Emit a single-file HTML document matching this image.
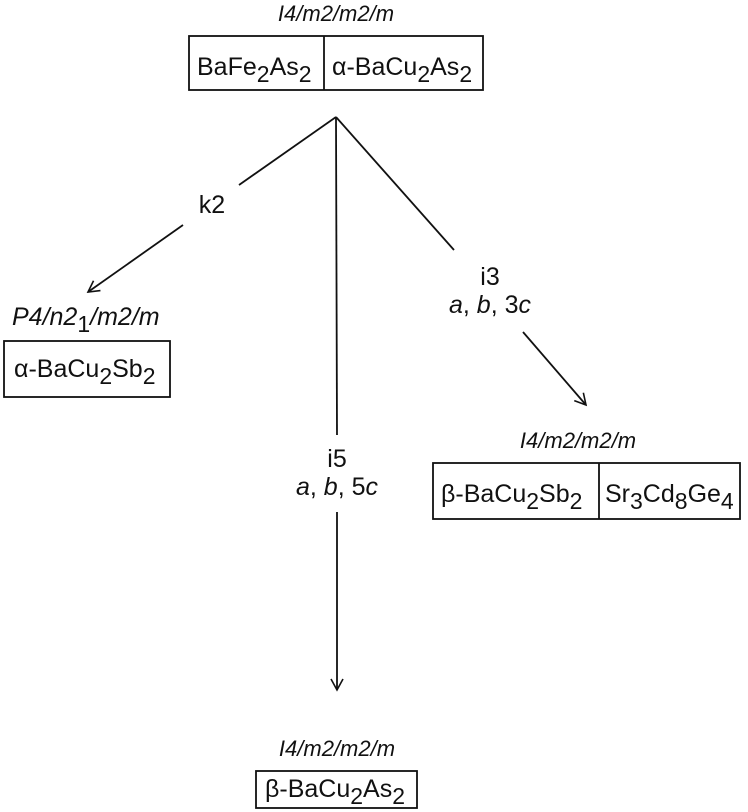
<!DOCTYPE html>
<html><head><style>
html,body{margin:0;padding:0;background:#fff;}
svg{display:block;}
text{font-family:"Liberation Sans",Arial,sans-serif;font-size:25px;fill:#111;}
.i{font-style:italic;}
.t{font-style:italic;font-size:22px;}
</style></head><body>
<svg width="748" height="812" viewBox="0 0 748 812" xmlns="http://www.w3.org/2000/svg">
<defs>
<marker id="a" markerWidth="14" markerHeight="14" refX="12" refY="7" orient="auto" markerUnits="userSpaceOnUse">
<path d="M1,1 L12,7 L1,13" fill="none" stroke="#111" stroke-width="1.6"/>
</marker>
</defs>
<g stroke="#111" stroke-width="1.8" fill="none">
<rect x="189" y="36" width="294" height="54"/>
<line x1="324" y1="36" x2="324" y2="90"/>
<rect x="4" y="341" width="166" height="56"/>
<rect x="433" y="463" width="307" height="56"/>
<line x1="599" y1="463" x2="599" y2="519"/>
<rect x="256" y="771" width="161" height="37"/>
<line x1="336" y1="117" x2="239" y2="185"/>
<line x1="183" y1="225" x2="88" y2="292" marker-end="url(#a)"/>
<line x1="336" y1="117" x2="337" y2="435"/>
<line x1="337" y1="512" x2="337" y2="690" marker-end="url(#a)"/>
<line x1="336" y1="117" x2="454" y2="250"/>
<line x1="523" y1="332" x2="586" y2="405" marker-end="url(#a)"/>
</g>
<text x="336" y="21" text-anchor="middle" class="t">I4/m2/m2/m</text>
<text x="197" y="75">BaFe<tspan dy="7" font-size="23">2</tspan><tspan dy="-7">As</tspan><tspan dy="7" font-size="23">2</tspan></text>
<text x="332" y="75">α-BaCu<tspan dy="7" font-size="23">2</tspan><tspan dy="-7">As</tspan><tspan dy="7" font-size="23">2</tspan></text>
<text x="212" y="213" text-anchor="middle">k2</text>
<text x="12" y="325" class="i" font-size="24">P4/n2<tspan dy="7" font-size="23" font-style="normal">1</tspan><tspan dy="-7">/m2/m</tspan></text>
<text x="14" y="377">α-BaCu<tspan dy="7" font-size="23">2</tspan><tspan dy="-7">Sb</tspan><tspan dy="7" font-size="23">2</tspan></text>
<text x="490" y="285" text-anchor="middle">i3</text>
<text x="490" y="313" text-anchor="middle"><tspan class="i">a</tspan>, <tspan class="i">b</tspan>, 3<tspan class="i">c</tspan></text>
<text x="337" y="467" text-anchor="middle">i5</text>
<text x="337" y="495" text-anchor="middle"><tspan class="i">a</tspan>, <tspan class="i">b</tspan>, 5<tspan class="i">c</tspan></text>
<text x="578" y="448" text-anchor="middle" class="t">I4/m2/m2/m</text>
<text x="441" y="502">β-BaCu<tspan dy="7" font-size="23">2</tspan><tspan dy="-7">Sb</tspan><tspan dy="7" font-size="23">2</tspan></text>
<text x="605" y="502">Sr<tspan dy="7" font-size="23">3</tspan><tspan dy="-7">Cd</tspan><tspan dy="7" font-size="23">8</tspan><tspan dy="-7">Ge</tspan><tspan dy="7" font-size="23">4</tspan></text>
<text x="337" y="756" text-anchor="middle" class="t">I4/m2/m2/m</text>
<text x="265" y="797">β-BaCu<tspan dy="7" font-size="23">2</tspan><tspan dy="-7">As</tspan><tspan dy="7" font-size="23">2</tspan></text>
</svg>
</body></html>
